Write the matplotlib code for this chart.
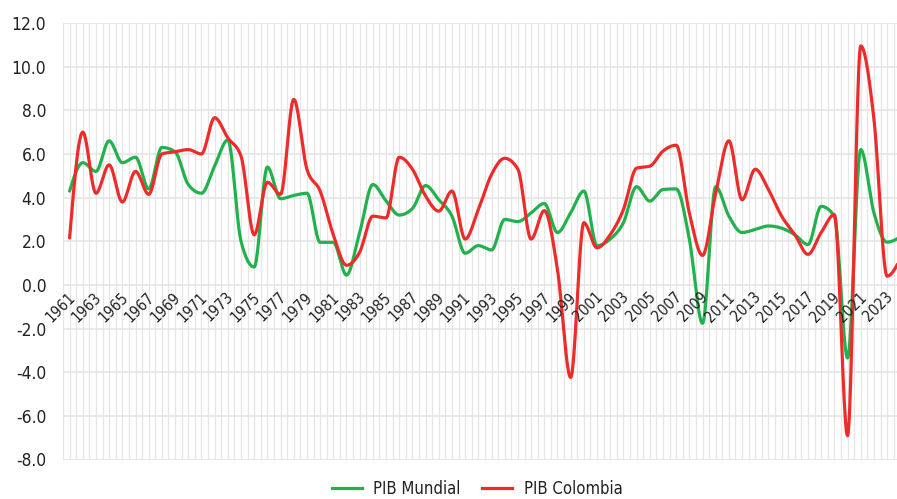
import numpy as np
import matplotlib.pyplot as plt
from matplotlib.lines import Line2D
from matplotlib import font_manager as fm

years = list(range(1961, 2025))
pib_mundial = [4.3, 5.6, 5.2, 6.6, 5.6, 5.85, 4.4, 6.3, 6.1, 4.6,
               4.2, 5.45, 6.64, 2.0, 0.82, 5.4, 3.95, 4.1, 4.2, 1.95,
               1.95, 0.45, 2.4, 4.6, 3.85, 3.2, 3.5, 4.55, 3.9, 3.15,
               1.45, 1.8, 1.6, 3.0, 2.9, 3.3, 3.73, 2.4, 3.3, 4.3,
               1.8, 2.1, 2.85, 4.5, 3.84, 4.37, 4.4, 2.1, -1.76, 4.5,
               3.15, 2.4, 2.54, 2.7, 2.6, 2.3, 1.85, 3.6, 3.15, -3.35,
               6.2, 3.3, 1.96, 2.2]
pib_colombia = [2.15, 7.0, 4.2, 5.5, 3.8, 5.2, 4.15, 6.0, 6.1, 6.2,
                6.0, 7.66, 6.74, 5.9, 2.3, 4.7, 4.15, 8.5, 5.3, 4.3,
                2.3, 0.9, 1.5, 3.15, 3.07, 5.85, 5.3, 4.07, 3.38, 4.3,
                2.1, 3.45, 5.06, 5.8, 5.3, 2.1, 3.4, 0.7, -4.24, 2.85,
                1.7, 2.3, 3.45, 5.35, 5.44, 6.13, 6.4, 3.3, 1.35, 4.2,
                6.6, 3.9, 5.3, 4.37, 3.15, 2.3, 1.4, 2.4, 3.22, -6.91,
                10.95, 7.6, 0.4, 1.2]
year_labels = [str(y) for y in years[::2]]
y_ticks = list(range(-8, 13, 2))

green = '#22b14c'
red = '#ee2b2b'

# look for a narrow/condensed sans face, else fall back to Roboto
fp = None
for f in fm.fontManager.ttflist:
    nm = f.name.lower()
    if f.style != 'normal' or f.weight not in (400, 'normal', 'regular', 'book'):
        continue
    if 'serif' in nm and 'sans' not in nm:
        continue
    if 'mono' in nm or 'cjk' in nm:
        continue
    if str(f.stretch) in ('condensed', 'semi-condensed') or 'narrow' in nm or 'condensed' in nm:
        fp = fm.FontProperties(fname=f.fname)
        break
if fp is None:
    fp = fm.FontProperties(family='Roboto')


def monotone(x, y, n=24):
    # monotone cubic interpolation (no overshoot, extrema at the points)
    x = np.asarray(x, float)
    y = np.asarray(y, float)
    s = np.diff(y) / np.diff(x)
    m = np.zeros_like(y)
    for i in range(1, len(y) - 1):
        s0, s1 = s[i - 1], s[i]
        p = (s0 + s1) / 2
        m[i] = (np.sign(s0) + np.sign(s1)) * min(abs(s0), abs(s1), 0.5 * abs(p))
    m[0] = (3 * s[0] - m[1]) / 2
    m[-1] = (3 * s[-1] - m[-2]) / 2
    xs, ys = [], []
    for i in range(len(x) - 1):
        h = x[i + 1] - x[i]
        t = np.linspace(0, 1, n, endpoint=False)
        h00 = 2*t**3 - 3*t**2 + 1
        h10 = t**3 - 2*t**2 + t
        h01 = -2*t**3 + 3*t**2
        h11 = t**3 - t**2
        xs.append(x[i] + t*h)
        ys.append(h00*y[i] + h10*h*m[i] + h01*y[i+1] + h11*h*m[i+1])
    xs.append([x[-1]])
    ys.append([y[-1]])
    return np.concatenate(xs), np.concatenate(ys)


fig = plt.figure(figsize=(8.97, 4.99), dpi=100)
ax = fig.add_axes([63/897, 1 - 459.5/499, 1 - 63/897, (459.5 - 23)/499])

for gx in np.arange(1960.5, 2025, 0.5):
    ax.axvline(gx, color='#e6e6e6', lw=0.9, zorder=0)
for gy in y_ticks:
    ax.axhline(gy, color='#e3e3e3', lw=1.1, zorder=0)

xs, ys = monotone(years, pib_mundial)
ax.plot(xs, ys, color=green, lw=2.3, solid_capstyle='round')
xs, ys = monotone(years, pib_colombia)
ax.plot(xs, ys, color=red, lw=2.3, solid_capstyle='round')

ax.set_xlim(1960.5, 2023.75)
ax.set_ylim(-8, 12)
ax.set_yticks(y_ticks)
ax.set_yticklabels([f'{v:.1f}' for v in y_ticks], color='#222222')
for lab in ax.get_yticklabels():
    lab.set_fontproperties(fp)
    lab.set_fontsize(12.5)
ax.tick_params(axis='y', length=0, pad=12)
ax.set_xticks([])
for s in ax.spines.values():
    s.set_visible(False)

for lab in year_labels:
    ax.text(int(lab) + 0.25, -0.45, lab, rotation=45, ha='right', va='center',
            rotation_mode='anchor', fontproperties=fp, fontsize=11,
            color='#222222', zorder=3)

lp = fp.copy()
lp.set_size(12)
handles = [Line2D([0], [0], color=green, lw=2.3), Line2D([0], [0], color=red, lw=2.3)]
fig.legend(handles, ['PIB Mundial', 'PIB Colombia'], loc='center', bbox_to_anchor=(0.532, 0.02),
           ncol=2, frameon=False, prop=lp, handlelength=1.8, columnspacing=1.3,
           handletextpad=0.7, labelcolor='#222222')

fig.savefig('out.png', dpi=100)
